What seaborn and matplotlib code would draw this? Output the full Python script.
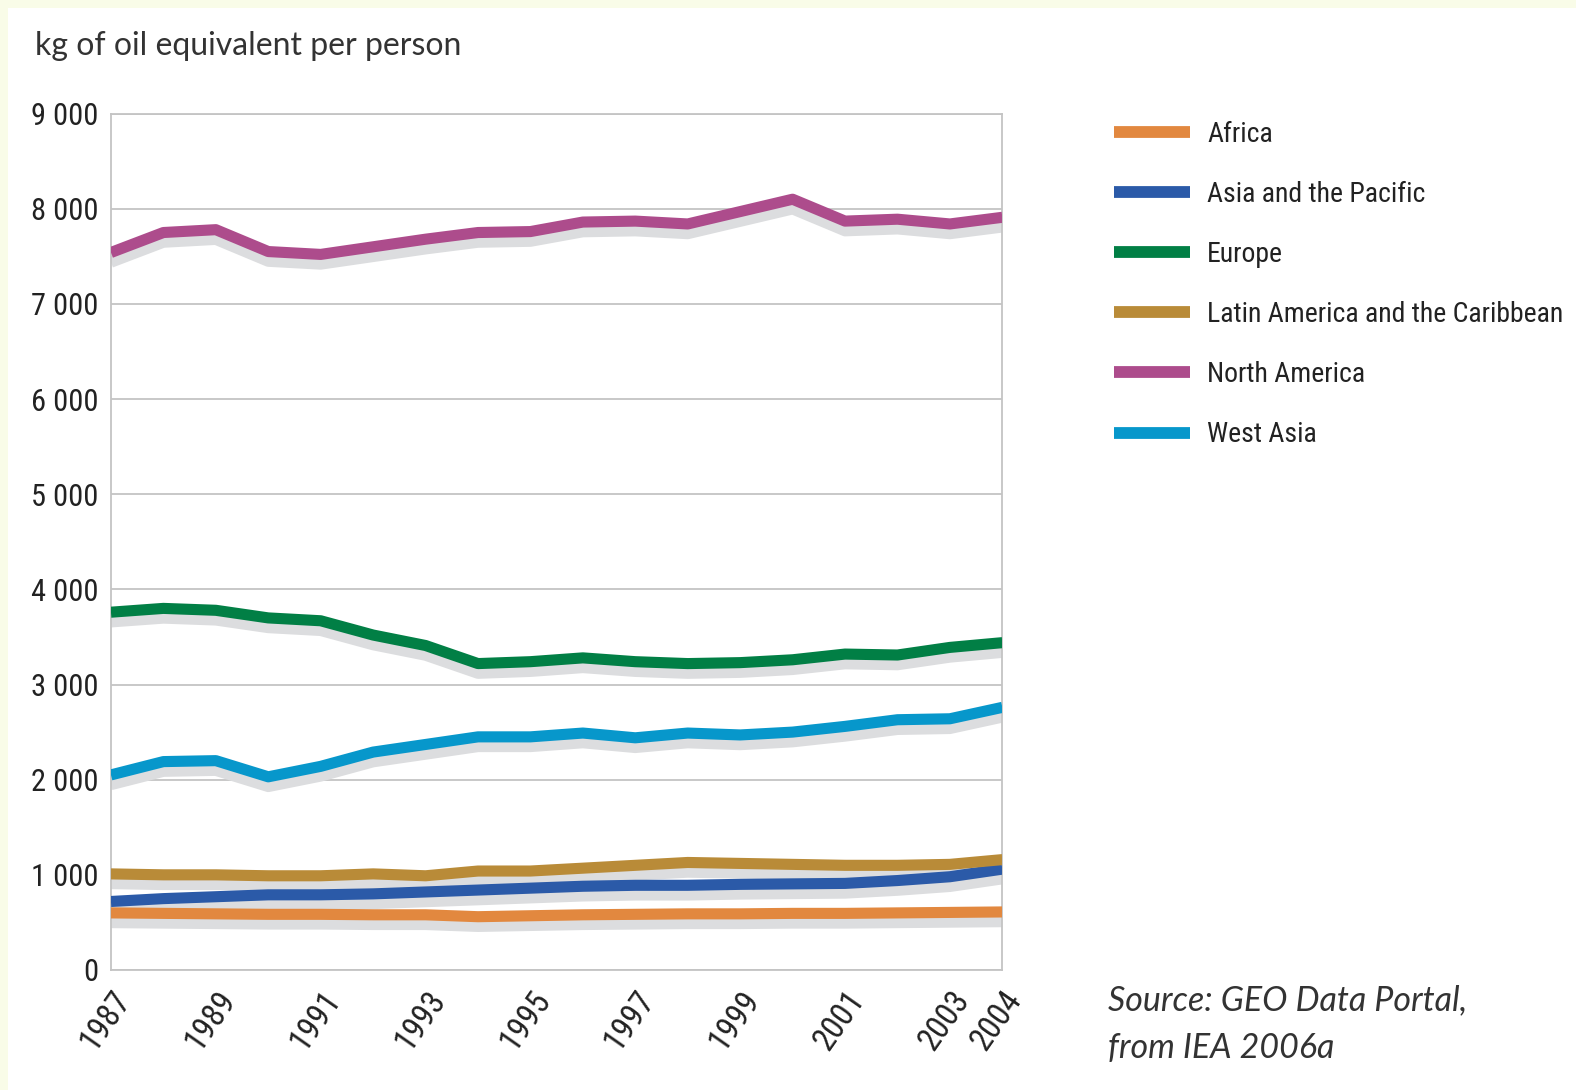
import matplotlib
matplotlib.use("Agg")
import matplotlib.pyplot as plt
import matplotlib.patheffects as pe
from matplotlib import font_manager as fm
from matplotlib.font_manager import FontProperties
from matplotlib.lines import Line2D
from matplotlib.patches import Rectangle
from matplotlib.ticker import FuncFormatter
import seaborn as sns
import pandas as pd

years = list(range(1987, 2005))
regions = ["Africa", "Asia and the Pacific", "Europe",
           "Latin America and the Caribbean", "North America", "West Asia"]
africa = [600, 595, 590, 585, 585, 580, 580, 560, 570, 580, 585, 590, 590, 595, 595, 600, 605, 610]
asia_pacific = [720, 750, 770, 790, 790, 800, 820, 840, 860, 880, 890, 890, 900, 905, 910, 940, 980, 1060]
europe = [3760, 3800, 3780, 3700, 3670, 3520, 3410, 3220, 3240, 3280, 3240, 3220, 3230, 3260, 3320, 3310, 3390, 3440]
latin_america = [1010, 1000, 1000, 990, 990, 1010, 990, 1040, 1040, 1070, 1100, 1130, 1120, 1110, 1100, 1100, 1110, 1160]
north_america = [7540, 7750, 7780, 7550, 7520, 7600, 7680, 7750, 7760, 7860, 7870, 7840, 7970, 8100, 7870, 7890, 7840, 7910]
west_asia = [2050, 2190, 2200, 2030, 2140, 2290, 2370, 2450, 2450, 2490, 2440, 2490, 2470, 2500, 2560, 2630, 2640, 2760]
colors = ["#E2883F", "#2B5AA8", "#017F45", "#B98B38", "#AD4C8C", "#0797CB"]
xtick_years = [1987, 1989, 1991, 1993, 1995, 1997, 1999, 2001, 2003, 2004]
ytick_values = [0, 1000, 2000, 3000, 4000, 5000, 6000, 7000, 8000, 9000]
source_lines = ["Source: GEO Data Portal,", "from IEA 2006a"]

series = [africa, asia_pacific, europe, latin_america, north_america, west_asia]
df = pd.DataFrame({
    "year": years * len(regions),
    "region": [r for r in regions for _ in years],
    "value": [v for s in series for v in s],
})
palette = dict(zip(regions, colors))

sns.set_theme(style="white")
plt.rcParams["font.family"] = ["Liberation Sans", "DejaVu Sans"]

# find a narrow / condensed font if one is installed
narrow_file = None
prefs = ["liberation sans narrow", "roboto condensed", "open sans condensed", "noto sans condensed",
         "dejavu sans condensed"]
cands = []
for f in fm.fontManager.ttflist:
    nm = f.name.lower()
    fn = f.fname.lower()
    is_narrow = ("narrow" in nm or "condensed" in nm or "condensed" in fn or "narrow" in fn
                 or str(f.stretch) in ("condensed", "semi-condensed", "extra-condensed", "ultra-condensed")
                 or (isinstance(f.stretch, int) and f.stretch < 500))
    if is_narrow and f.style == "normal" and (f.weight in ("normal", "regular", 400, "book")) \
            and "bold" not in fn and "italic" not in fn and "light" not in fn and "mono" not in fn:
        cands.append(f)
for p in prefs:
    for f in cands:
        if p in f.name.lower() or p.replace(" ", "") in f.fname.lower().replace("-", "").replace("_", ""):
            narrow_file = f.fname
            break
    if narrow_file:
        break
if narrow_file is None and cands:
    narrow_file = cands[0].fname


def nprop(size):
    if narrow_file:
        return FontProperties(fname=narrow_file, size=size)
    return FontProperties(family=["Liberation Sans", "DejaVu Sans"], size=size * 0.85)


fig = plt.figure(figsize=(15.76, 10.9), dpi=100)
fig.patch.set_facecolor("#F9FCE8")
fig.patches.append(Rectangle((8 / 1576, 0), 1, 1 - 8 / 1090, transform=fig.transFigure,
                             facecolor="white", edgecolor="none", zorder=-5))

ax = fig.add_axes([0.0704, 0.1101, 0.636 - 0.0704, 0.8958 - 0.1101])
ax.set_facecolor("white")

# shadows underneath all lines
sns.lineplot(data=df, x="year", y="value", hue="region", palette={r: "#DCDDDF" for r in regions},
             linewidth=8, legend=False, ax=ax, zorder=2,
             path_effects=[pe.SimpleLineShadow(offset=(0, -7), shadow_color="#DCDDDF", alpha=1.0)])
for l in ax.get_lines():
    l.set_solid_capstyle("butt")
    l.set_solid_joinstyle("round")
n_shadow = len(ax.get_lines())
sns.lineplot(data=df, x="year", y="value", hue="region", palette=palette,
             linewidth=8, legend=False, ax=ax, zorder=3)
for l in ax.get_lines()[n_shadow:]:
    l.set_solid_capstyle("butt")
    l.set_solid_joinstyle("round")
    l.set_path_effects([])

ax.set_xlim(1987, 2004)
ax.set_ylim(0, 9000)
ax.set_xticks(xtick_years)
ax.set_yticks(ytick_values)
ax.yaxis.set_major_formatter(FuncFormatter(lambda v, p: f"{int(v):,}".replace(",", " ")))
ax.grid(axis="y", color="#C4C4C4", linewidth=1.3)
ax.grid(axis="x", visible=False)
for s in ax.spines.values():
    s.set_visible(True)
    s.set_color("#C4C4C4")
    s.set_linewidth(1.3)
ax.set_xlabel("")
ax.set_ylabel("")
ax.tick_params(axis="both", length=0, colors="#222222")
ax.tick_params(axis="y", pad=9)
ax.tick_params(axis="x", pad=11)
for t in ax.get_yticklabels():
    t.set_fontproperties(nprop(22))
for t in ax.get_xticklabels():
    t.set_fontproperties(nprop(23.5))
    t.set_rotation(55)
    t.set_ha("right")
    t.set_va("top")
    t.set_rotation_mode("anchor")

fig.text(35 / 1576, 1 - 55 / 1090, "kg of oil equivalent per person", fontsize=23,
         family=["Lato", "DejaVu Sans"], color="#333333", ha="left", va="baseline")

handles = [Line2D([0], [0], color=c, lw=8.5, solid_capstyle="butt") for c in colors]
leg = fig.legend(handles, regions, loc="upper left", bbox_to_anchor=(1114 / 1576, 1 - 121 / 1090),
                 frameon=False, handlelength=2.73, handletextpad=0.62, labelspacing=1.19,
                 borderaxespad=0, borderpad=0, prop=nprop(20))
for t in leg.get_texts():
    t.set_color("#222222")

for i, line in enumerate(source_lines):
    fig.text(1108 / 1576, 1 - (1010 + 48 * i) / 1090, line, fontsize=24.5,
             family=["Lato", "DejaVu Sans"], style="italic", color="#333333",
             ha="left", va="baseline")

fig.savefig("out.png", dpi=100, facecolor=fig.get_facecolor())
